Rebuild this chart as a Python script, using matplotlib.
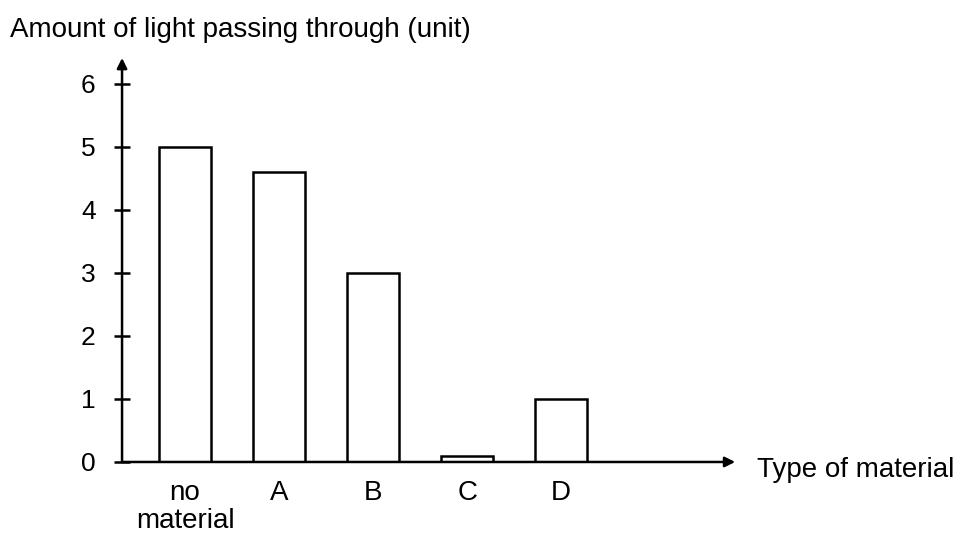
import matplotlib
matplotlib.use("Agg")
import matplotlib.pyplot as plt

plt.rcParams['font.family'] = ['Liberation Sans', 'DejaVu Sans']

categories = ['no\nmaterial', 'A', 'B', 'C', 'D']
light = [5.0, 4.6, 3.0, 0.1, 1.0]
yticks = [0, 1, 2, 3, 4, 5, 6]

fig = plt.figure(figsize=(9.64, 5.39), dpi=100)
ax = fig.add_axes([0.1266, 0.1429, 0.636, 0.7495])

x = list(range(len(categories)))
ax.bar(x, light, width=0.55, color='white', edgecolor='black', linewidth=1.8)

ax.set_xlim(-0.67, 5.85)
ax.set_ylim(0, 6.41)

for s in ax.spines.values():
    s.set_visible(False)

# axes with arrow heads
ax.annotate('', xy=(0, 1), xytext=(0, 0), xycoords='axes fraction',
            arrowprops=dict(arrowstyle='-|>', color='black', lw=1.8,
                            shrinkA=0, shrinkB=0, mutation_scale=15))
ax.annotate('', xy=(1, 0), xytext=(0, 0), xycoords='axes fraction',
            arrowprops=dict(arrowstyle='-|>', color='black', lw=1.8,
                            shrinkA=0, shrinkB=0, mutation_scale=15))

ax.set_yticks(yticks)
ax.tick_params(axis='y', direction='inout', length=12, width=1.8,
               labelsize=19, pad=13)
ax.set_xticks(x)
ax.set_xticklabels(categories, fontsize=20, linespacing=1.1)
ax.tick_params(axis='x', length=0, pad=13)

fig.text(0.01, 0.944, 'Amount of light passing through (unit)', fontsize=20,
         ha='left', va='center')
ax.text(1.036, -0.02, 'Type of material', transform=ax.transAxes, fontsize=20,
        ha='left', va='center')

fig.savefig('out.png', dpi=100)
